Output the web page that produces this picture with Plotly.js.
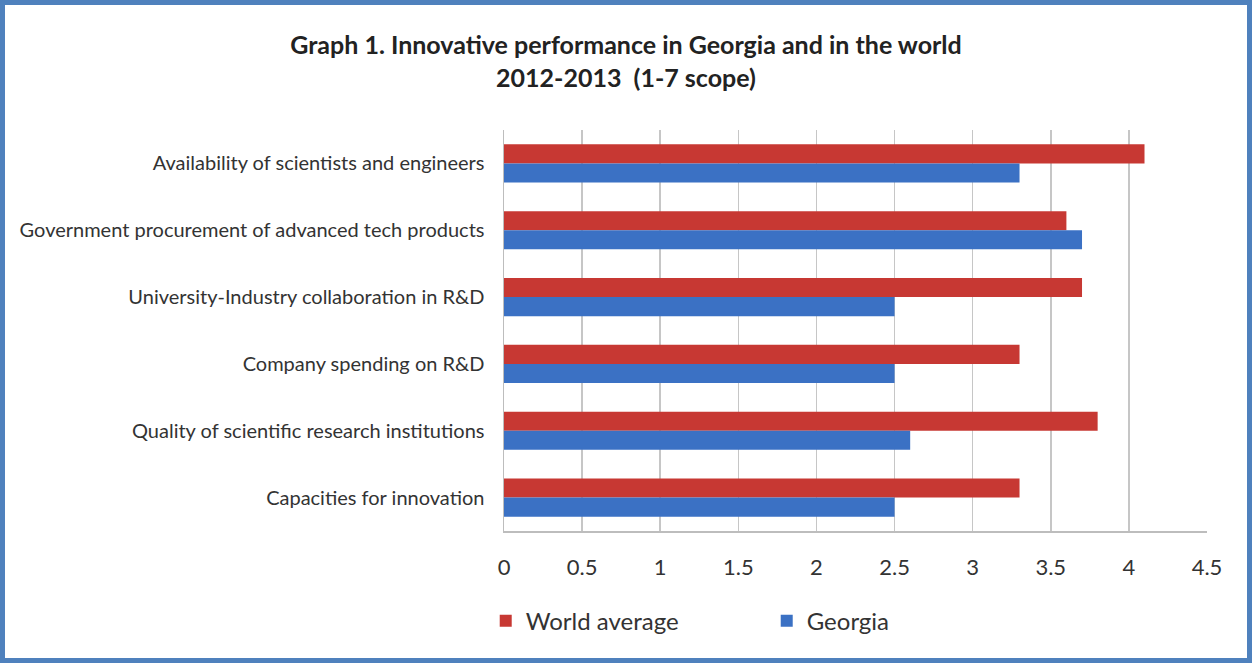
<!DOCTYPE html>
<html>
<head>
<meta charset="utf-8">
<script src="https://cdn.plot.ly/plotly-3.0.1.min.js"></script>
<style>
html,body{margin:0;padding:0;background:#fff;}
#wrap{position:relative;width:1252px;height:663px;}
#chart{position:absolute;left:0;top:0;width:1252px;height:663px;}
#frame{position:absolute;left:0;top:0;width:1252px;height:663px;box-sizing:border-box;border:5px solid #4f81bd;pointer-events:none;}
</style>
</head>
<body>
<div id="wrap"><div id="chart"></div><div id="frame"></div></div>
<script>
const categories = [
  "Availability of scientists and engineers",
  "Government procurement of advanced tech products",
  "University-Industry collaboration in R&D",
  "Company spending on R&D",
  "Quality of scientific research institutions",
  "Capacities for innovation"
];
const worldAverage = [4.1, 3.6, 3.7, 3.3, 3.8, 3.3];
const georgia = [3.3, 3.7, 2.5, 2.5, 2.6, 2.5];
const tickValues = [0, 0.5, 1, 1.5, 2, 2.5, 3, 3.5, 4, 4.5];
const tickLabels = ["0", "0.5", "1", "1.5", "2", "2.5", "3", "3.5", "4", "4.5"];

const fontFam = "Lato, 'Open Sans', sans-serif";

const traces = [
  {type:'bar', orientation:'h', name:'World average', y:categories, x:worldAverage,
   marker:{color:'#c73833'}, hoverinfo:'x+name'},
  {type:'bar', orientation:'h', name:'Georgia', y:categories, x:georgia,
   marker:{color:'#3b71c4'}, hoverinfo:'x+name'}
];

const layout = {
  width:1252, height:663,
  margin:{l:504, r:45, t:130, b:132},
  paper_bgcolor:'#ffffff', plot_bgcolor:'#ffffff',
  barmode:'group', bargap:0.43, bargroupgap:0,
  font:{family:fontFam, color:'#333'},
  title:{text:'<b>Graph 1. Innovative performance in Georgia and in the world</b><br><b>2012-2013  (1-7 scope)</b>',
    font:{family:fontFam, size:25, color:'#222', lineposition:'none'}, x:0.5, xanchor:'center', y:0.918, yanchor:'top', yref:'container'},
  xaxis:{range:[0,4.5], tickvals:tickValues, ticktext:tickLabels, showgrid:true, gridcolor:'#c6c6c6', gridwidth:1.5,
    zeroline:false, showline:true, linecolor:'#bdbdbd', linewidth:1.5, ticks:'',
    ticklabelstandoff:16, tickfont:{family:"'Liberation Sans Narrow', "+fontFam, size:22, color:'#333'}, fixedrange:true},
  yaxis:{autorange:'reversed', showline:true, linecolor:'#bdbdbd', linewidth:1.5, ticks:'',
    ticklabelstandoff:14, tickfont:{family:fontFam, size:20, color:'#333'}, fixedrange:true},
  legend:{orientation:'h', x:-0.026, xanchor:'left', y:-0.225, yanchor:'middle',
    font:{family:fontFam, size:24, color:'#333'}, entrywidth:236, entrywidthmode:'pixels', traceorder:'normal'},
  showlegend:true
};

Plotly.newPlot('chart', traces, layout, {displayModeBar:false, staticPlot:true});
</script>
</body>
</html>
